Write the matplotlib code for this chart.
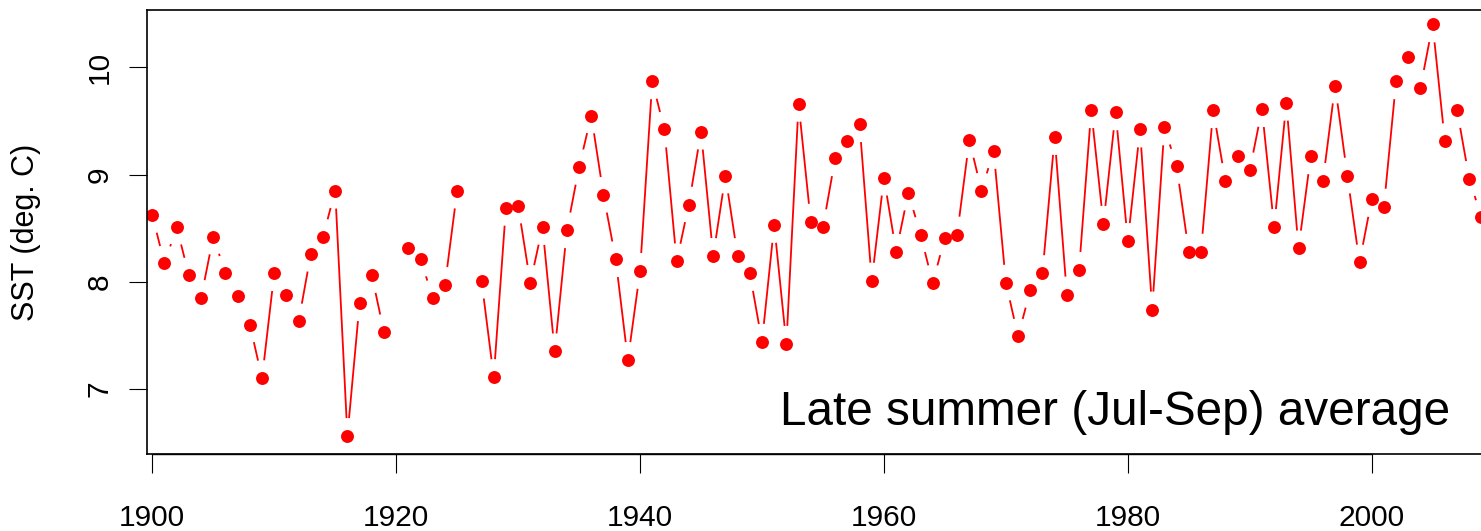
import numpy as np
import matplotlib
matplotlib.use("Agg")
import matplotlib.pyplot as plt
from matplotlib.collections import LineCollection

# late summer mean sea surface temperature by year (NaN = no data)
years = np.arange(1900, 2010)
sst = [8.62, 8.17, 8.51, 8.06, 7.85, 8.42, 8.08, 7.87, 7.60, 7.10,
       8.08, 7.88, 7.63, 8.26, 8.42, 8.85, 6.56, 7.80, 8.06, 7.53,
       np.nan, 8.31, 8.21, 7.85, 7.97, 8.85, np.nan, 8.01, 7.11, 8.69,
       8.71, 7.99, 8.51, 7.35, 8.48, 9.07, 9.55, 8.81, 8.21, 7.27,
       8.10, 9.87, 9.42, 8.19, 8.72, 9.40, 8.24, 8.99, 8.24, 8.08,
       7.44, 8.53, 7.42, 9.66, 8.56, 8.51, 9.15, 9.31, 9.47, 8.01,
       8.97, 8.28, 8.83, 8.44, 7.99, 8.41, 8.44, 9.32, 8.85, 9.22,
       7.99, 7.49, 7.92, 8.08, 9.35, 7.88, 8.11, 9.60, 8.54, 9.58,
       8.38, 9.42, 7.74, 9.44, 9.08, 8.28, 8.28, 9.60, 8.94, 9.17,
       9.04, 9.61, 8.51, 9.67, 8.31, 9.17, 8.94, 9.83, 8.99, 8.18,
       8.77, 8.70, 9.87, 10.10, 9.81, 10.40, 9.31, 9.60, 8.96, 8.60]
sst = np.array(sst)

xticks = [1900, 1920, 1940, 1960, 1980, 2000]
yticks = [7, 8, 9, 10]

plt.rcParams['font.family'] = ['Liberation Sans', 'DejaVu Sans']

W, H = 1481, 531
fig = plt.figure(figsize=(W / 100, H / 100), dpi=100)
left, right, top, bottom = 146.7, 1490, 10, 454.3
ax = fig.add_axes([left / W, 1 - bottom / H, (right - left) / W, (bottom - top) / H])

px_per_year = (1371.7 - 152.3) / 100
ax.set_xlim(1900 - (152.3 - left) / px_per_year, 1900 + (right - 152.3) / px_per_year)
px_per_deg = (389.3 - 67.7) / 3
ax.set_ylim(8 - (bottom - 281.7) / px_per_deg, 8 + (281.7 - top) / px_per_deg)

# type="b" style: segments stop short of each point
gap = 18
pts = ax.transData.transform(np.column_stack([years, sst]))
inv = ax.transData.inverted()
segs = []
for i in range(len(years) - 1):
    if np.isnan(sst[i]) or np.isnan(sst[i + 1]):
        continue
    p0, p1 = pts[i], pts[i + 1]
    d = p1 - p0
    L = np.hypot(*d)
    if L <= 2 * gap:
        continue
    u = d / L
    segs.append(inv.transform([p0 + u * gap, p1 - u * gap]))
ax.add_collection(LineCollection(segs, colors='red', linewidths=1.3))
ax.plot(years, sst, linestyle='none', marker='o', color='red', markersize=9.3, markeredgewidth=0)

# axis line under the tick range, as base graphics draws it
ax.plot([xticks[0], xticks[-1]], [ax.get_ylim()[0]] * 2, color='black', lw=1.0,
        clip_on=False, solid_capstyle='butt')

ax.set_xticks(xticks)
ax.set_yticks(yticks)
ax.set_yticklabels([str(v) for v in yticks], rotation=90, va='center')
ax.tick_params(axis='x', length=14, width=0.8, pad=22, labelsize=21.5)
ax.tick_params(axis='y', length=13, width=0.8, pad=11, labelsize=21.5)
for s in ax.spines.values():
    s.set_linewidth(1.2)

fig.text(26 / W, 1 - 232 / H, 'SST (deg. C)', rotation=90, ha='center', va='center', fontsize=22)
fig.text(1450 / W, 1 - 425 / H, 'Late summer (Jul-Sep) average', ha='right', va='baseline', fontsize=34.3)

fig.savefig('out.png', dpi=100)
